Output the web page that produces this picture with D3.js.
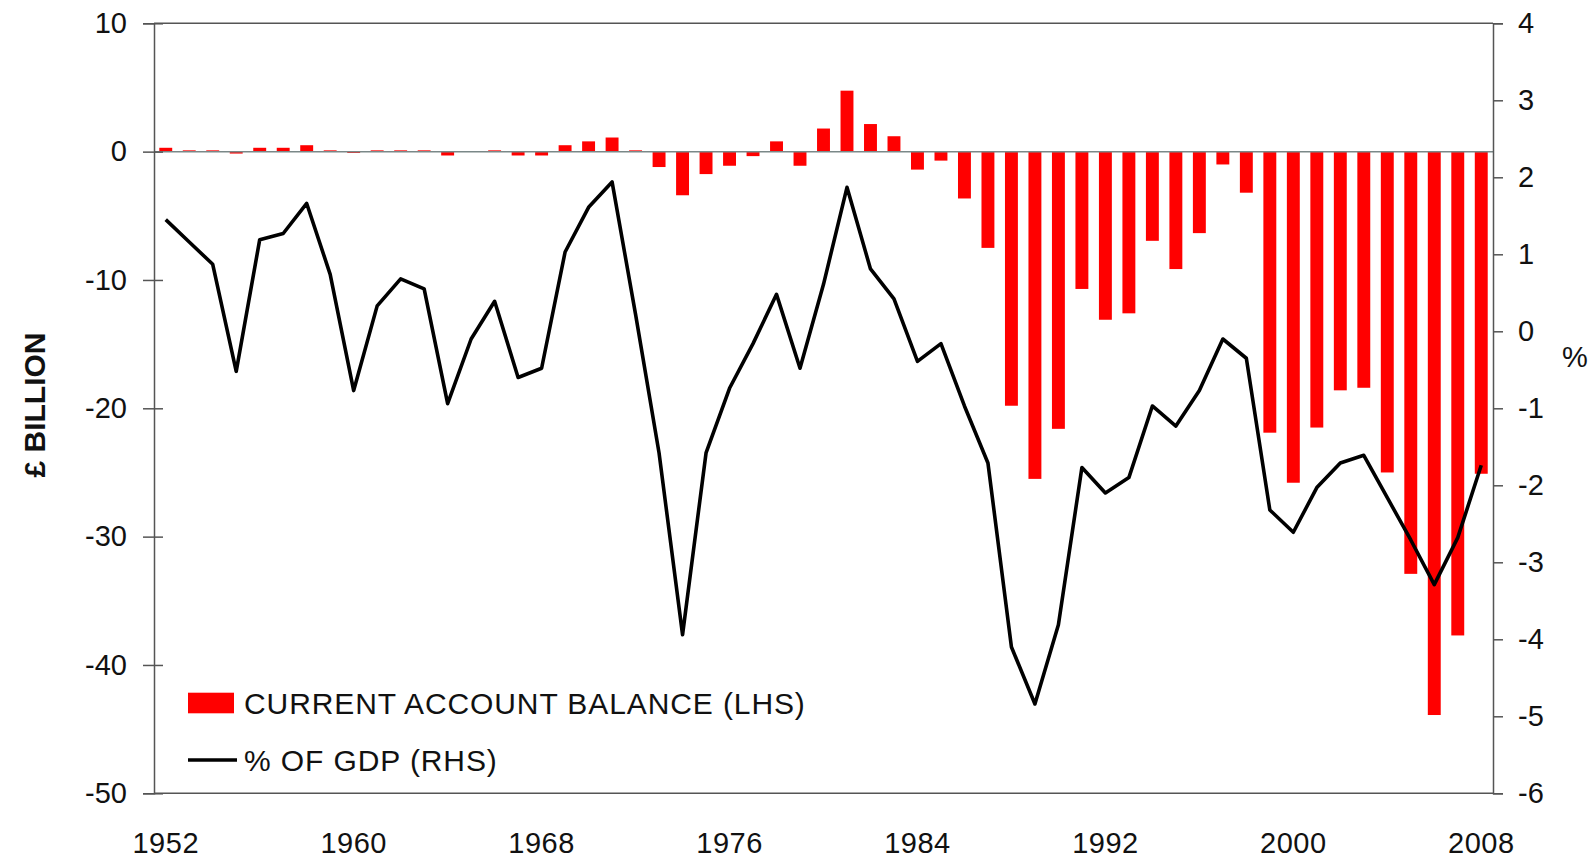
<!DOCTYPE html>
<html>
<head>
<meta charset="utf-8">
<script src="https://cdn.jsdelivr.net/npm/d3@7/dist/d3.min.js"></script>
<style>
  html, body { margin: 0; padding: 0; background: #fff; }
  svg { display: block; font-family: Arial, "Liberation Sans", sans-serif; }
</style>
</head>
<body>
<svg id="chart" width="1595" height="860"></svg>
<script>
// ---- Data ----
const years = d3.range(1952, 2009);
const balanceBn = [
  0.3, 0.1, 0.1, -0.15, 0.3, 0.3, 0.5, 0.1, -0.1, 0.1,
  0.1, 0.1, -0.3, 0.0, 0.1, -0.3, -0.3, 0.5, 0.8, 1.1,
  0.1, -1.2, -3.4, -1.75, -1.1, -0.35, 0.8, -1.1, 1.8, 4.75,
  2.15, 1.2, -1.4, -0.7, -3.65, -7.5, -19.8, -25.5, -21.6, -10.7,
  -13.1, -12.6, -6.95, -9.15, -6.35, -1.0, -3.2, -21.9, -25.8, -21.5,
  -18.6, -18.4, -25.0, -32.9, -43.9, -37.7, -25.1
];
const pctGDP = [
  1.45, 1.16, 0.87, -0.52, 1.19, 1.27, 1.66, 0.74, -0.77, 0.33,
  0.68, 0.55, -0.94, -0.10, 0.39, -0.60, -0.48, 1.03, 1.61, 1.94,
  0.22, -1.58, -3.94, -1.58, -0.74, -0.16, 0.48, -0.48, 0.61, 1.87,
  0.81, 0.42, -0.39, -0.16, -0.97, -1.71, -4.10, -4.84, -3.81, -1.77,
  -2.10, -1.90, -0.97, -1.23, -0.77, -0.10, -0.35, -2.32, -2.61, -2.03,
  -1.71, -1.61, -2.16, -2.71, -3.29, -2.68, -1.74
];
const leftTicks = [10, 0, -10, -20, -30, -40, -50];
const rightTicks = [4, 3, 2, 1, 0, -1, -2, -3, -4, -5, -6];
const xLabelYears = [1952, 1960, 1968, 1976, 1984, 1992, 2000, 2008];
const leftTitle = "£ BILLION";
const rightTitle = "%";
const legendBar = "CURRENT ACCOUNT BALANCE (LHS)";
const legendLine = "% OF GDP (RHS)";

// ---- Layout ----
const L = 154, R = 1493, T = 23.3, B = 793.3;
const axisColor = "#555";
const textColor = "#111";
const fmt = d => String(d);

const svg = d3.select("#chart");

const x = d3.scaleBand().domain(years).range([L, R]).paddingInner(0.45).paddingOuter(0.225);
const yL = d3.scaleLinear().domain([-50, 10]).range([B, T]);
const yR = d3.scaleLinear().domain([-6, 4]).range([B, T]);

// Bars
svg.append("g").selectAll("rect")
  .data(years.map((yr, i) => ({ yr, v: balanceBn[i] })))
  .join("rect")
  .attr("x", d => x(d.yr))
  .attr("width", x.bandwidth())
  .attr("y", d => yL(Math.max(0, d.v)))
  .attr("height", d => Math.abs(yL(d.v) - yL(0)))
  .attr("fill", "#ff0000");

// Zero line
svg.append("line")
  .attr("x1", L).attr("x2", R)
  .attr("y1", yL(0)).attr("y2", yL(0))
  .attr("stroke", "#7a8888").attr("stroke-width", 1.5);

// Frame (top & bottom)
svg.append("line").attr("x1", L).attr("x2", R).attr("y1", T).attr("y2", T)
  .attr("stroke", axisColor).attr("stroke-width", 1.5);
svg.append("line").attr("x1", L).attr("x2", R).attr("y1", B).attr("y2", B)
  .attr("stroke", axisColor).attr("stroke-width", 1.5);

// Line series
const line = d3.line()
  .x((d, i) => x(years[i]) + x.bandwidth() / 2)
  .y(d => yR(d));
svg.append("path")
  .datum(pctGDP)
  .attr("d", line)
  .attr("fill", "none")
  .attr("stroke", "#000")
  .attr("stroke-width", 3.6)
  .attr("stroke-linejoin", "round");

// Left axis
const gL = svg.append("g").attr("transform", `translate(${L},0)`)
  .call(d3.axisLeft(yL).tickValues(leftTicks).tickSize(11).tickPadding(16).tickFormat(fmt));
gL.select(".domain").attr("stroke", axisColor).attr("stroke-width", 1.5);
gL.selectAll(".tick line").attr("x1", -11).attr("x2", 9).attr("stroke", axisColor).attr("stroke-width", 1.5);
gL.selectAll(".tick text").attr("font-size", 29).attr("fill", textColor).attr("font-family", "Arial, 'Liberation Sans', sans-serif");

// Right axis
const gR = svg.append("g").attr("transform", `translate(${R},0)`)
  .call(d3.axisRight(yR).tickValues(rightTicks).tickSize(10).tickPadding(15).tickFormat(fmt));
gR.select(".domain").attr("stroke", axisColor).attr("stroke-width", 1.5);
gR.selectAll(".tick line").attr("stroke", axisColor).attr("stroke-width", 1.5);
gR.selectAll(".tick text").attr("font-size", 29).attr("fill", textColor).attr("font-family", "Arial, 'Liberation Sans', sans-serif");

// Bottom axis labels
const gB = svg.append("g").attr("transform", `translate(0,${B})`)
  .call(d3.axisBottom(x).tickValues(xLabelYears).tickSize(0).tickPadding(39).tickFormat(fmt));
gB.select(".domain").remove();
gB.selectAll(".tick text").attr("font-size", 29).attr("letter-spacing", 0.5).attr("fill", textColor).attr("font-family", "Arial, 'Liberation Sans', sans-serif");

// Axis titles
svg.append("text")
  .attr("transform", `translate(34,405) rotate(-90)`)
  .attr("text-anchor", "middle").attr("dominant-baseline", "central")
  .attr("font-size", 30).attr("font-weight", "bold").attr("fill", textColor)
  .text(leftTitle);
svg.append("text")
  .attr("x", 1575).attr("y", 357)
  .attr("text-anchor", "middle").attr("dominant-baseline", "central")
  .attr("font-size", 29).attr("fill", textColor)
  .text(rightTitle);

// Legend
const lg = svg.append("g");
lg.append("rect").attr("x", 188).attr("y", 692.7).attr("width", 46).attr("height", 20.6).attr("fill", "#ff0000");
lg.append("text").attr("x", 244).attr("y", 703).attr("dominant-baseline", "central")
  .attr("font-size", 30).attr("letter-spacing", 0.9).attr("fill", textColor).text(legendBar);
lg.append("line").attr("x1", 188).attr("x2", 237).attr("y1", 760).attr("y2", 760)
  .attr("stroke", "#000").attr("stroke-width", 3.6);
lg.append("text").attr("x", 244).attr("y", 760).attr("dominant-baseline", "central")
  .attr("font-size", 30).attr("letter-spacing", 0.9).attr("fill", textColor).text(legendLine);
</script>
</body>
</html>
